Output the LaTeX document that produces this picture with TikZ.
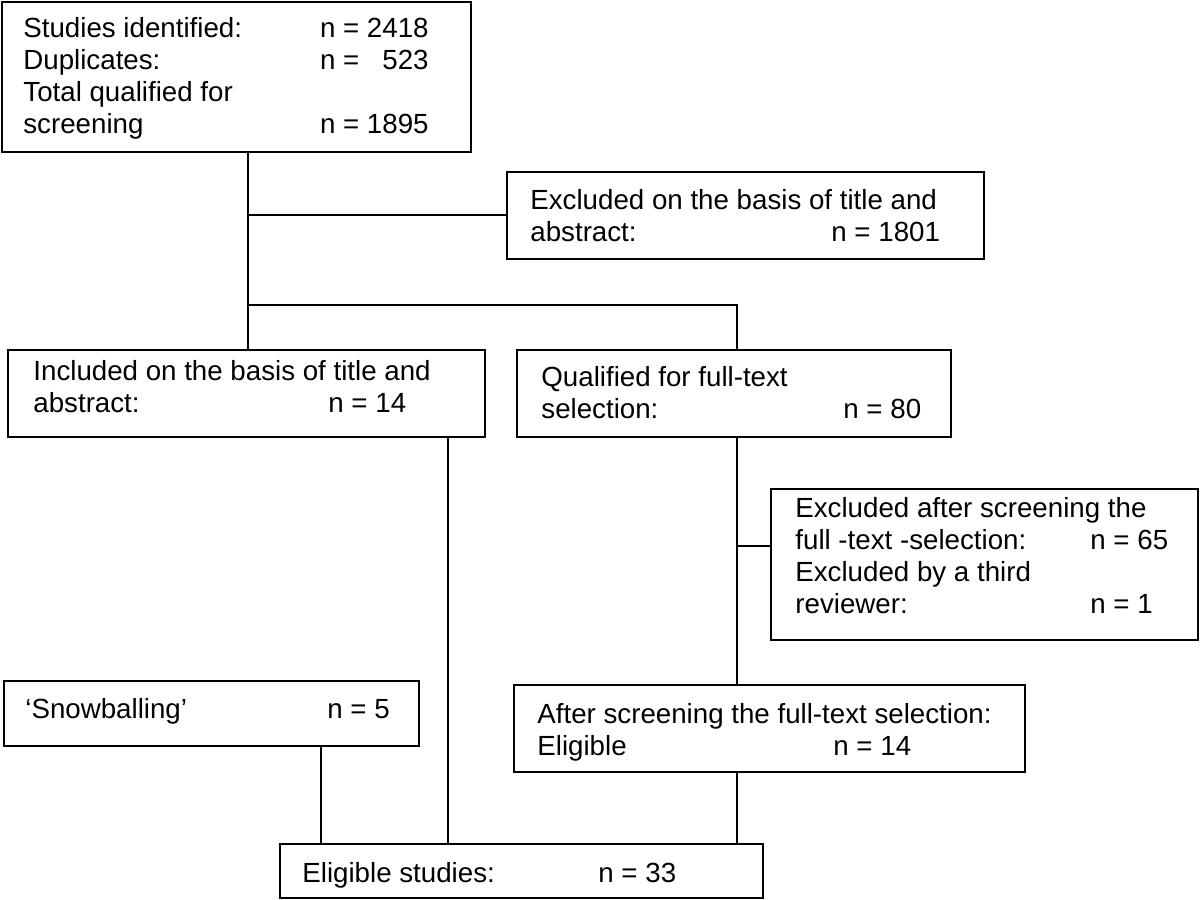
\documentclass[tikz,border=0pt]{standalone}
\usepackage{fontspec}
\setmainfont{Liberation Sans}
\begin{document}
\begin{tikzpicture}[x=0.5pt,y=-0.5pt,
  box/.style={draw=black, line width=1.1pt, rectangle, inner sep=0pt, outer sep=0pt, anchor=north west},
  txt/.style={inner sep=0pt, anchor=base west, font=\fontsize{13.85}{16}\selectfont},
  txtr/.style={inner sep=0pt, anchor=base east, font=\fontsize{13.85}{16}\selectfont},
  conn/.style={draw=black, line width=1.1pt}]
\useasboundingbox (0,0) rectangle (1200,900);

% boxes
\node[box, minimum width=234.5pt, minimum height=75pt] (b1) at (2,2) {};
\node[box, minimum width=238.5pt, minimum height=43.5pt] (excl1) at (507,172) {};
\node[box, minimum width=238.5pt, minimum height=43.5pt] (incl) at (8,350) {};
\node[box, minimum width=217pt, minimum height=43.5pt] (qual) at (517,350) {};
\node[box, minimum width=213.5pt, minimum height=75.5pt] (excl2) at (771,489) {};
\node[box, minimum width=207.5pt, minimum height=32.5pt] (snow) at (4,681) {};
\node[box, minimum width=255.5pt, minimum height=43.5pt] (after) at (514,685) {};
\node[box, minimum width=241.5pt, minimum height=27pt] (elig) at (280,844) {};

% texts
\node[txt] (t1a) at (23,37) {Studies identified:};
\node[txtr] (t1b) at (429,37) {n = 2418};
\node[txt] (t1c) at (23,69) {Duplicates:};
\node[txtr] (t1d) at (429,69) {n = \phantom{2}523};
\node[txt] (t1e) at (23,101) {Total qualified for};
\node[txt] (t1f) at (23,133) {screening};
\node[txtr] (t1g) at (429,133) {n = 1895};

\node[txt] (t2a) at (530,209) {Excluded on the basis of title and};
\node[txt] (t2b) at (530,241) {abstract:};
\node[txt] (t2c) at (831,241) {n = 1801};

\node[txt] (t3a) at (33,380) {Included on the basis of title and};
\node[txt] (t3b) at (33,412) {abstract:};
\node[txt] (t3c) at (328,412) {n = 14};

\node[txt] (t4a) at (541,386) {Qualified for full-text};
\node[txt] (t4b) at (541,418) {selection:};
\node[txt] (t4c) at (843,418) {n = 80};

\node[txt] (t5a) at (795,517) {Excluded after screening the};
\node[txt] (t5b) at (795,549) {full -text -selection:};
\node[txt] (t5c) at (1090,549) {n = 65};
\node[txt] (t5d) at (795,581) {Excluded by a third};
\node[txt] (t5e) at (795,613) {reviewer:};
\node[txt] (t5f) at (1090,613) {n = 1};

\node[txt] (t6a) at (25,718) {‘Snowballing’};
\node[txt] (t6b) at (327,718) {n = 5};

\node[txt] (t7a) at (537,723) {After screening the full-text selection:};
\node[txt] (t7b) at (537,755) {Eligible};
\node[txt] (t7c) at (833,755) {n = 14};

\node[txt] (t8a) at (302,882) {Eligible studies:};
\node[txt] (t8b) at (598,882) {n = 33};

% junctions
\coordinate (j1) at (248,215);
\coordinate (j2) at (248,305);
\coordinate (j3) at (737,305);
\coordinate (j4) at (737,546);
\coordinate (k1) at (321,800);
\coordinate (k2) at (448,800);

% connectors
\draw[conn] (b1.south -| j1) -- (incl.north -| j1);
\draw[conn] (j1) -- (excl1.west |- j1);
\draw[conn] (j2) -- (j3) -- (qual.north -| j3);
\draw[conn] (qual.south -| j4) -- (after.north -| j4);
\draw[conn] (j4) -- (excl2.west |- j4);
\draw[conn] (snow.south -| k1) -- (elig.north -| k1);
\draw[conn] (incl.south -| k2) -- (elig.north -| k2);
\draw[conn] (after.south -| j4) -- (elig.north -| j4);
\end{tikzpicture}
\end{document}
